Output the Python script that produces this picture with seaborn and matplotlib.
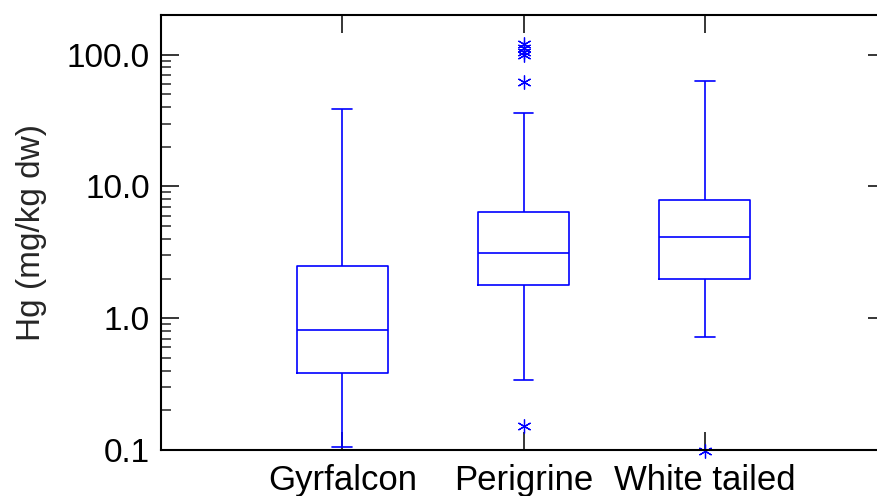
import numpy as np
import pandas as pd
import seaborn as sns
import matplotlib.pyplot as plt
from matplotlib.ticker import FixedLocator, FuncFormatter, LogLocator, NullFormatter

# Hg values (sorted per species so quartiles land on the drawn box)
species = ["Gyrfalcon", "Perigrine", "White tailed"]
gyrfalcon = [0.105, 0.384, 0.82, 2.49, 38.8]
perigrine = [0.151, 0.338, 0.6, 0.9, 1.2, 1.5, 1.79, 2.0, 2.3, 2.5, 2.7, 2.9,
             3.10, 3.5, 4.0, 4.6, 5.2, 5.8, 6.37, 36.2, 62.0, 100.0, 105.0, 112.0, 120.0]
white_tailed = [0.098, 0.717, 1.98, 3.0, 4.15, 5.5, 7.94, 15.0, 62.7]
y_ticks = [0.1, 1.0, 10.0, 100.0]

df = pd.DataFrame({
    "species": ["Gyrfalcon"] * len(gyrfalcon) + ["Perigrine"] * len(perigrine)
               + ["White tailed"] * len(white_tailed),
    "hg": gyrfalcon + perigrine + white_tailed,
})

sns.set_style("ticks")
plt.rcParams["font.family"] = ["Liberation Sans", "DejaVu Sans"]

fig = plt.figure(figsize=(8.77, 4.96), dpi=100)
ax = fig.add_axes([161 / 877, 46 / 496, 725 / 877, 435 / 496])

sns.boxplot(data=df, x="species", y="hg", order=species, log_scale=True,
            fill=False, color="blue", width=0.5, linewidth=1.2,
            capwidths=0.11, whis=1.5, ax=ax,
            flierprops=dict(marker=(6, 2, 0), markersize=10,
                            markeredgecolor="blue", markeredgewidth=0.9))

# outlier sitting on the bottom axis should not be clipped
for line in ax.lines:
    line.set_clip_on(False)

ax.set_xlim(-1, 3)
ax.set_ylim(0.1, 200)
ax.yaxis.set_major_locator(FixedLocator(y_ticks))
ax.yaxis.set_major_formatter(FuncFormatter(lambda v, p: f"{v:.1f}"))
ax.yaxis.set_minor_locator(LogLocator(base=10, subs=np.arange(2, 10)))
ax.yaxis.set_minor_formatter(NullFormatter())

for side in ["left", "bottom", "top"]:
    ax.spines[side].set_linewidth(1.5)
    ax.spines[side].set_color("black")
ax.spines["right"].set_visible(False)

ax.tick_params(axis="both", which="major", direction="in", length=13, width=1.1,
               labelsize=24, colors="black")
ax.tick_params(axis="y", which="minor", direction="in", length=7, width=1.1,
               left=True, right=False)
ax.tick_params(axis="x", which="major", top=True, bottom=True, pad=10, labelsize=25)
ax.tick_params(axis="y", which="major", left=True, right=True, pad=8)

ax.set_xlabel("")
ax.set_ylabel("Hg (mg/kg dw)", fontsize=24, labelpad=14)

fig.savefig("out.png", dpi=100)
